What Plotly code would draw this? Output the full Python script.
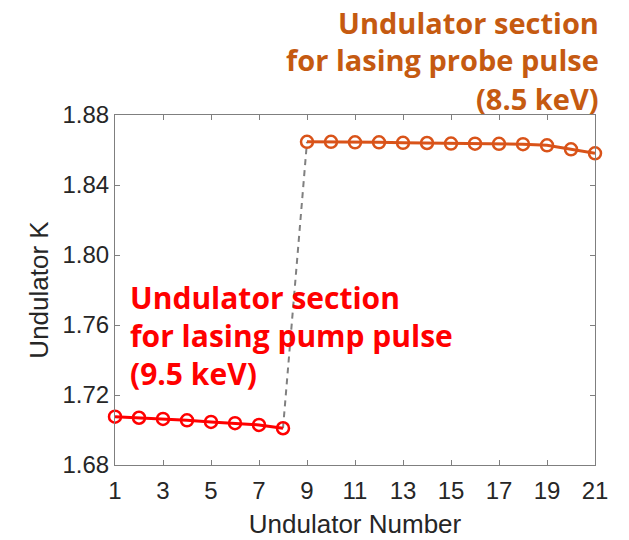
import plotly.graph_objects as go

pump_x = [1, 2, 3, 4, 5, 6, 7, 8]
pump_k = [1.7076, 1.7070, 1.7063, 1.7055, 1.7046, 1.7039, 1.7029, 1.7010]
probe_x = [9, 10, 11, 12, 13, 14, 15, 16, 17, 18, 19, 20, 21]
probe_k = [1.8647, 1.8647, 1.8644, 1.8644, 1.8641, 1.8640, 1.8637, 1.8636,
           1.8635, 1.8633, 1.8627, 1.8604, 1.8581]
x_ticks = [1, 3, 5, 7, 9, 11, 13, 15, 17, 19, 21]
y_ticks = [1.68, 1.72, 1.76, 1.80, 1.84, 1.88]

pump_lines = ["Undulator section", "for lasing pump pulse", "(9.5 keV)"]
probe_lines = ["Undulator section", "for lasing probe pulse", "(8.5 keV)"]

RED = "#FF0000"
ORANGE = "#D95319"
ORANGE_TXT = "#C55A11"

fig = go.Figure()
fig.add_trace(go.Scatter(x=[pump_x[-1], probe_x[0]], y=[pump_k[-1], probe_k[0]],
                         mode="lines", line=dict(color="#808080", width=2, dash="6px,5px"),
                         hoverinfo="skip", showlegend=False, cliponaxis=False))
fig.add_trace(go.Scatter(x=pump_x, y=pump_k, mode="lines+markers",
                         line=dict(color=RED, width=3),
                         marker=dict(symbol="circle-open", size=12, color=RED, line=dict(width=2.5)),
                         showlegend=False, cliponaxis=False))
fig.add_trace(go.Scatter(x=probe_x, y=probe_k, mode="lines+markers",
                         line=dict(color=ORANGE, width=3),
                         marker=dict(symbol="circle-open", size=12, color=ORANGE, line=dict(width=2.5)),
                         showlegend=False, cliponaxis=False))

# plot area in px: x 115..595, y 115..465
def px2paper(px, py):
    return (px - 115) / 480, (465 - py) / 350

font_b = "Open Sans"
for i, t in enumerate(probe_lines):
    xp, yp = px2paper(601, [23, 60, 98][i])
    fig.add_annotation(text="<b>%s</b>" % t, xref="paper", yref="paper", x=xp, y=yp,
                       xanchor="right", yanchor="middle", showarrow=False,
                       font=dict(family=font_b, size=29, color=ORANGE_TXT))
for i, t in enumerate(pump_lines):
    xp, yp = px2paper(128, [297, 335, 373][i])
    fig.add_annotation(text="<b>%s</b>" % t, xref="paper", yref="paper", x=xp, y=yp,
                       xanchor="left", yanchor="middle", showarrow=False,
                       font=dict(family=font_b, size=30, color=RED))

TXT = "#262626"
axis_common = dict(showgrid=False, zeroline=False, showline=True, linecolor="#7f7f7f",
                   linewidth=1, mirror="ticks", ticks="inside", ticklen=5, tickcolor="#7f7f7f",
                   automargin=False,
                   tickfont=dict(family="Liberation Sans", size=24, color=TXT))
fig.update_xaxes(range=[1, 21], tickvals=x_ticks, ticklabelstandoff=4,
                 title=dict(text="Undulator Number", font=dict(family="Liberation Sans", size=26, color=TXT), standoff=12),
                 **axis_common)
fig.update_yaxes(range=[1.68, 1.88], tickvals=y_ticks, ticktext=["%.2f" % v for v in y_ticks],
                 title=dict(text="Undulator K", font=dict(family="Liberation Sans", size=26, color=TXT), standoff=6),
                 **axis_common)
fig.update_layout(width=629, height=540, margin=dict(l=115, r=34, t=115, b=75),
                  plot_bgcolor="white", paper_bgcolor="white")
fig.write_html("out.html")
